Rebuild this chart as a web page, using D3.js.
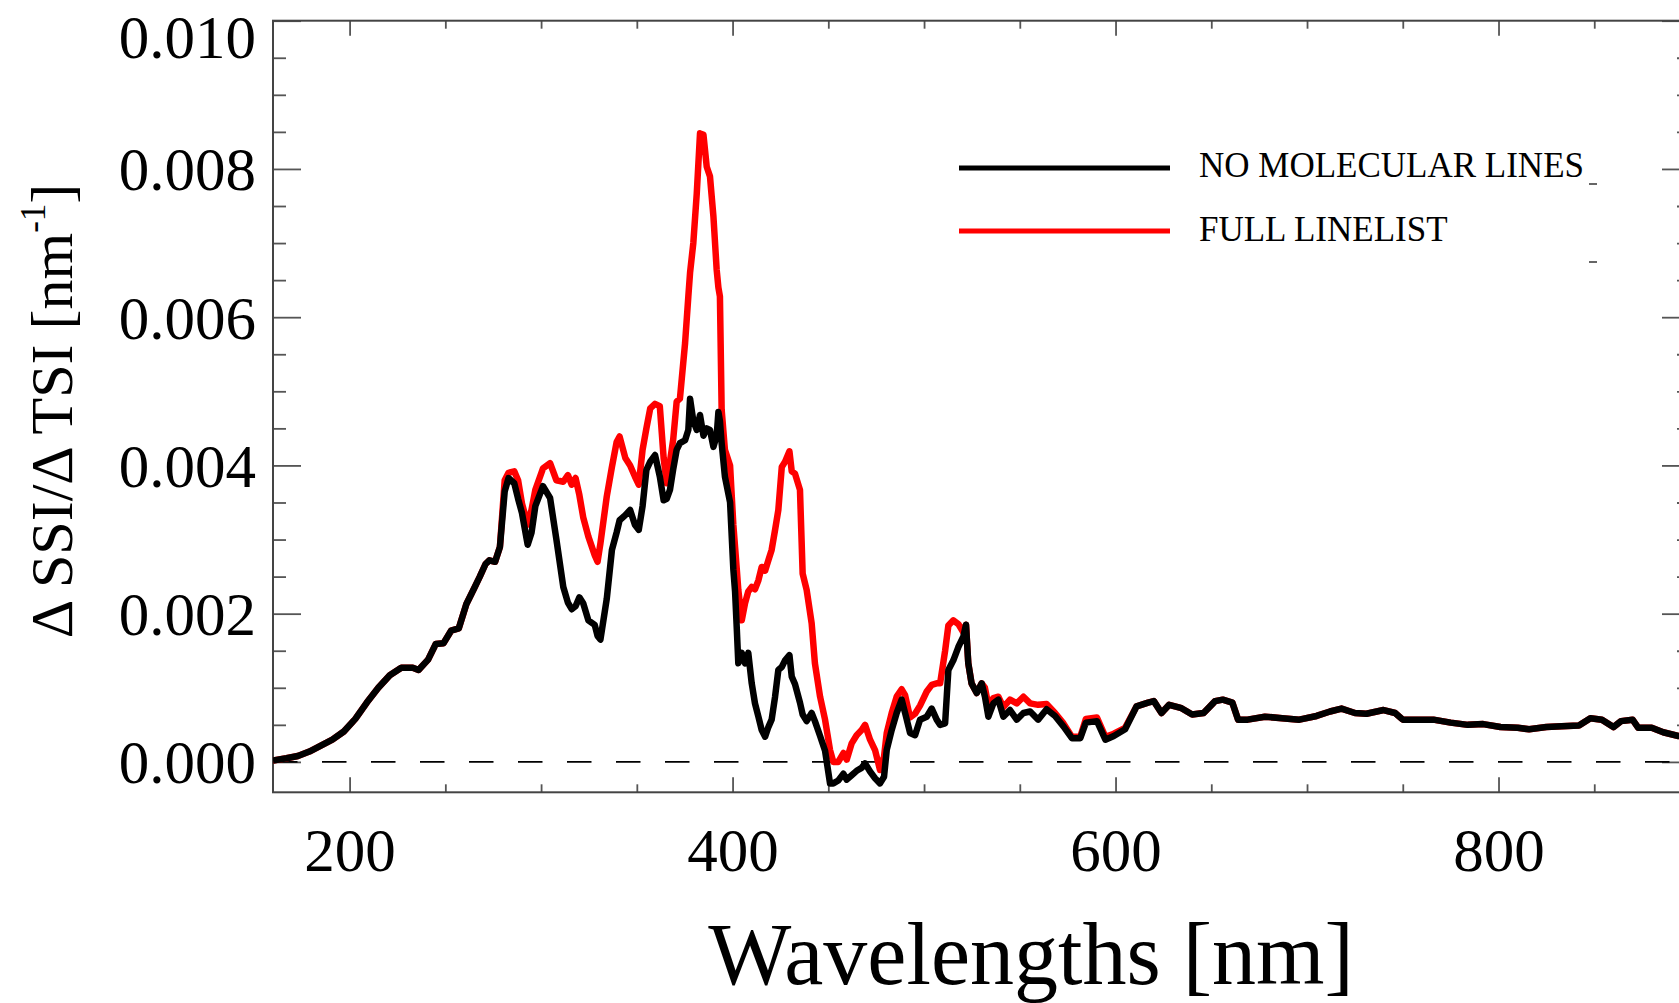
<!DOCTYPE html>
<html>
<head>
<meta charset="utf-8">
<script src="https://cdnjs.cloudflare.com/ajax/libs/d3/7.8.5/d3.min.js"></script>
<style>
  body { margin: 0; background: #fff; }
  text { font-family: "Liberation Serif", "Times New Roman", serif; fill: #000; }
</style>
</head>
<body>
<script>
// wavelength grid (nm), shared by both series
const wavelengths = [160,167,173,179,185,191,197,203,209,215,221,227,233,236,241,245,249,253,257,261,
  265,268,271,273,276,278.5,281,283,286,288,290,293,295,297,301,304.7,308,311.6,314,316,
  318,320,322,324.7,328,329.5,331,334.3,337,339.5,341,344,346.5,349,351,353,355,357,359.5,362,
  364,365.6,367.3,369,370.8,372.5,375.2,376.9,377.8,379.5,381.3,383,384.8,386.5,388.2,390,391.7,392.6,393.4,394.3,
  396,398.7,400.4,401.3,402.2,403,404.8,406.5,408.2,410,411.7,413.5,415.2,417,418.7,420.4,422.2,423.9,425.7,427.4,
  429.7,430.9,432.6,435.2,436.6,438.7,441.3,443,445.7,448.3,450.9,452.6,455.2,457.9,459.6,462.2,464.8,467.4,469.2,471.8,
  474.4,477,479.1,480.5,483.1,485.7,488.3,490.1,492.7,495.3,497.9,501.4,504,506.6,508.4,511,512.7,515.3,517.9,520.5,
  521.9,523.1,524.8,527.5,530.1,531.8,533.6,536.2,538.8,541.4,544.9,548.4,551.9,555.4,559.6,564,568.4,572.8,577.2,581.6,
  584.5,590.3,594.7,599.1,605,611,617,620,624,628,634,640,646,652,656,661,664,669,678,687,
  696,705,712,718,725,731,740,746,750,757,766,775,784,792,801,810,816,825,833,842,
  848,854,860,864,870,873,880,886,894,900];

// dSSI/dTSI, in units of 1e-3 nm^-1
const noMolecularLines = [0.02,0.05,0.08,0.14,0.22,0.30,0.41,0.58,0.80,1.00,1.17,1.27,1.27,1.24,1.38,1.59,1.60,1.77,1.80,2.13,
  2.34,2.50,2.67,2.72,2.70,2.90,3.65,3.83,3.76,3.55,3.36,2.93,3.09,3.45,3.72,3.56,3.00,2.36,2.15,2.06,
  2.10,2.22,2.14,1.91,1.85,1.70,1.65,2.20,2.86,3.10,3.26,3.33,3.40,3.20,3.13,3.45,3.94,4.05,4.14,3.85,
  3.53,3.55,3.67,3.95,4.21,4.30,4.34,4.48,4.90,4.60,4.48,4.68,4.40,4.50,4.48,4.25,4.40,4.72,4.60,4.30,
  3.85,3.50,2.60,2.30,1.80,1.33,1.47,1.33,1.47,1.06,0.79,0.61,0.43,0.34,0.47,0.57,0.88,1.24,1.28,1.37,
  1.44,1.15,1.05,0.80,0.64,0.55,0.66,0.55,0.35,0.15,-0.29,-0.29,-0.25,-0.16,-0.24,-0.18,-0.12,-0.08,-0.02,-0.13,
  -0.22,-0.29,-0.20,0.16,0.43,0.66,0.84,0.66,0.39,0.36,0.57,0.61,0.72,0.57,0.50,0.52,1.24,1.37,1.55,1.69,
  1.85,1.33,1.06,0.93,1.06,0.88,0.61,0.79,0.84,0.61,0.70,0.57,0.66,0.68,0.57,0.71,0.62,0.48,0.32,0.32,
  0.53,0.55,0.30,0.35,0.44,0.75,0.80,0.82,0.66,0.77,0.73,0.64,0.66,0.82,0.84,0.80,0.57,0.57,0.61,0.59,
  0.57,0.62,0.68,0.72,0.66,0.65,0.70,0.66,0.57,0.57,0.57,0.53,0.50,0.51,0.47,0.46,0.44,0.47,0.48,0.49,
  0.59,0.57,0.47,0.55,0.57,0.46,0.46,0.40,0.35,0.33];

const fullLinelist = [0.02,0.05,0.08,0.14,0.22,0.30,0.41,0.58,0.80,1.00,1.17,1.27,1.27,1.24,1.38,1.59,1.60,1.77,1.80,2.13,
  2.34,2.50,2.67,2.72,2.70,2.90,3.80,3.90,3.92,3.80,3.49,3.20,3.40,3.67,3.96,4.03,3.80,3.78,3.87,3.74,
  3.83,3.60,3.30,3.04,2.79,2.70,2.95,3.58,3.98,4.32,4.39,4.10,4.00,3.85,3.74,4.21,4.50,4.77,4.83,4.80,
  4.10,3.76,4.05,4.35,4.86,4.90,5.65,6.28,6.60,7.00,7.67,8.48,8.46,8.03,7.90,7.36,6.64,6.40,6.28,4.75,
  4.21,4.00,3.20,2.90,2.60,2.32,1.91,2.14,2.30,2.36,2.33,2.45,2.63,2.58,2.72,2.86,3.13,3.40,3.98,4.05,
  4.19,3.92,3.89,3.67,2.54,2.32,1.87,1.33,0.88,0.57,0.16,0.00,0.00,0.12,0.03,0.25,0.36,0.43,0.50,0.30,
  0.16,-0.11,0.07,0.39,0.66,0.88,0.98,0.90,0.60,0.65,0.76,0.95,1.04,1.06,1.06,1.50,1.84,1.91,1.86,1.75,
  1.85,1.33,1.06,0.93,1.06,1.00,0.76,0.86,0.88,0.74,0.84,0.79,0.88,0.79,0.77,0.78,0.66,0.52,0.34,0.34,
  0.58,0.60,0.34,0.38,0.46,0.75,0.80,0.82,0.66,0.77,0.73,0.64,0.66,0.82,0.84,0.80,0.57,0.57,0.61,0.59,
  0.57,0.62,0.68,0.72,0.66,0.65,0.70,0.66,0.57,0.57,0.57,0.53,0.50,0.51,0.47,0.46,0.44,0.47,0.48,0.49,
  0.59,0.57,0.47,0.55,0.57,0.46,0.46,0.40,0.35,0.33];

const seriesNames = ["NO MOLECULAR LINES", "FULL LINELIST"];
const seriesColors = ["#000000", "#ff0000"];
const xMajorTicks = [200, 400, 600, 800];
const yMajorTicks = [0, 0.002, 0.004, 0.006, 0.008, 0.010];

const w = 1679;
const h = 1003;
const frame = { left: 273, right: 1690, top: 20.7, bottom: 792.3 };

const svg = d3.select("body")
  .append("svg")
  .attr("width", w)
  .attr("height", h)
  .style("background", "#fff");

const x = d3.scaleLinear().domain([160, 900]).range([frame.left, frame.right]);
const y = d3.scaleLinear().domain([-0.00041, 0.010]).range([frame.bottom, frame.top]);

const xMinor = d3.range(150, 901, 50).filter(d => xMajorTicks.indexOf(d) < 0 && d > 160);
const yMinor = d3.range(0, 0.0101, 0.0005).filter(d => Math.round(d * 10000) % 20 !== 0);

function styleAxis(g) {
  g.select(".domain").remove();
  g.selectAll(".tick line").attr("stroke", "#555").attr("stroke-width", 1.8);
}

// left axis with labels
svg.append("g")
  .attr("transform", "translate(" + frame.left + ",0)")
  .call(d3.axisLeft(y).tickValues(yMajorTicks).tickSizeInner(-28).tickSizeOuter(0).tickPadding(17)
    .tickFormat(d3.format(".3f")))
  .call(styleAxis)
  .call(g => g.selectAll("text")
    .attr("font-size", 61)
    .attr("dy", 0)
    // top label is pushed inside the picture
    .attr("y", d => Math.max(21, 57 - y(d))));
svg.append("g")
  .attr("transform", "translate(" + frame.left + ",0)")
  .call(d3.axisLeft(y).tickValues(yMinor).tickSizeInner(-13).tickSizeOuter(0).tickFormat(""))
  .call(styleAxis);

// right axis
svg.append("g")
  .attr("transform", "translate(" + frame.right + ",0)")
  .call(d3.axisRight(y).tickValues(yMajorTicks).tickSizeInner(-28).tickSizeOuter(0).tickFormat(""))
  .call(styleAxis);
svg.append("g")
  .attr("transform", "translate(" + frame.right + ",0)")
  .call(d3.axisRight(y).tickValues(yMinor).tickSizeInner(-13).tickSizeOuter(0).tickFormat(""))
  .call(styleAxis);

// bottom axis with labels
svg.append("g")
  .attr("transform", "translate(0," + frame.bottom + ")")
  .call(d3.axisBottom(x).tickValues(xMajorTicks).tickSizeInner(-15).tickSizeOuter(0).tickFormat(d3.format("d")))
  .call(styleAxis)
  .call(g => g.selectAll("text")
    .attr("font-size", 61)
    .attr("dy", 0)
    .attr("y", 871 - frame.bottom));
svg.append("g")
  .attr("transform", "translate(0," + frame.bottom + ")")
  .call(d3.axisBottom(x).tickValues(xMinor).tickSizeInner(-8).tickSizeOuter(0).tickFormat(""))
  .call(styleAxis);

// top axis
svg.append("g")
  .attr("transform", "translate(0," + frame.top + ")")
  .call(d3.axisTop(x).tickValues(xMajorTicks).tickSizeInner(-15).tickSizeOuter(0).tickFormat(""))
  .call(styleAxis);
svg.append("g")
  .attr("transform", "translate(0," + frame.top + ")")
  .call(d3.axisTop(x).tickValues(xMinor).tickSizeInner(-8).tickSizeOuter(0).tickFormat(""))
  .call(styleAxis);

// frame
svg.append("rect")
  .attr("x", frame.left)
  .attr("y", frame.top)
  .attr("width", frame.right - frame.left)
  .attr("height", frame.bottom - frame.top)
  .attr("fill", "none")
  .attr("stroke", "#444")
  .attr("stroke-width", 2);

// zero line
svg.append("line")
  .attr("x1", frame.left).attr("x2", frame.right)
  .attr("y1", y(0)).attr("y2", y(0))
  .attr("stroke", "#000")
  .attr("stroke-width", 1.6)
  .attr("stroke-dasharray", "24.5,24.5");

svg.append("clipPath").attr("id", "plotclip")
  .append("rect")
  .attr("x", frame.left).attr("y", frame.top)
  .attr("width", frame.right - frame.left).attr("height", frame.bottom - frame.top);

const line = d3.line()
  .x(d => x(d[0]))
  .y(d => y(d[1] / 1000));

const series = [
  { name: seriesNames[1], color: seriesColors[1], values: fullLinelist },
  { name: seriesNames[0], color: seriesColors[0], values: noMolecularLines }
];

svg.append("g")
  .attr("clip-path", "url(#plotclip)")
  .selectAll("path")
  .data(series)
  .enter()
  .append("path")
  .attr("d", s => line(wavelengths.map((wl, i) => [wl, s.values[i]])))
  .attr("fill", "none")
  .attr("stroke", s => s.color)
  .attr("stroke-width", 6.5)
  .attr("stroke-linejoin", "round");

// legend
const legend = svg.append("g");
const legendRows = [
  { name: seriesNames[0], color: seriesColors[0], ly: 168, ty: 177 },
  { name: seriesNames[1], color: seriesColors[1], ly: 231, ty: 241 }
];
legend.selectAll("line.key")
  .data(legendRows)
  .enter()
  .append("line")
  .classed("key", true)
  .attr("x1", 959).attr("x2", 1170)
  .attr("y1", d => d.ly).attr("y2", d => d.ly)
  .attr("stroke", d => d.color)
  .attr("stroke-width", 5);
legend.selectAll("text")
  .data(legendRows)
  .enter()
  .append("text")
  .attr("x", 1199)
  .attr("y", d => d.ty)
  .attr("font-size", 35)
  .text(d => d.name);
// small stray marks next to the legend
legend.selectAll("line.mark")
  .data([184, 262])
  .enter()
  .append("line")
  .classed("mark", true)
  .attr("x1", 1589).attr("x2", 1597)
  .attr("y1", d => d).attr("y2", d => d)
  .attr("stroke", "#333")
  .attr("stroke-width", 1.5);

// axis titles
svg.append("text")
  .attr("x", 1031)
  .attr("y", 984)
  .attr("text-anchor", "middle")
  .attr("font-size", 88)
  .text("Wavelengths [nm]");

const yTitle = svg.append("text")
  .attr("transform", "translate(72,411) rotate(-90)")
  .attr("text-anchor", "middle")
  .attr("font-size", 60);
yTitle.append("tspan").text("\u0394 SSI/\u0394 TSI [nm");
yTitle.append("tspan").attr("dy", -27).attr("font-size", 35).text("-1");
yTitle.append("tspan").attr("dy", 27).text("]");
</script>
</body>
</html>
